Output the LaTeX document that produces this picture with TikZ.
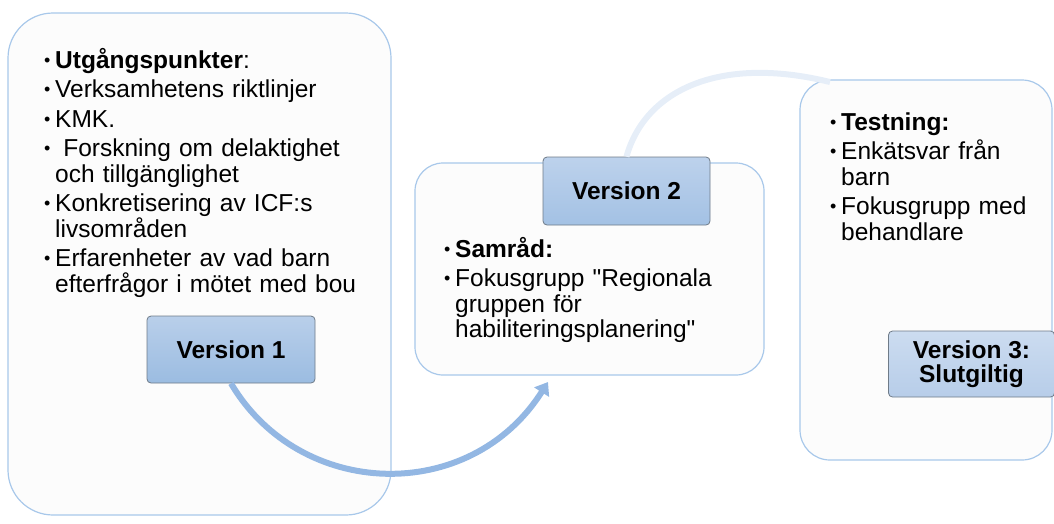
\documentclass[tikz,border=0pt]{standalone}
\usepackage{fontspec}
\setmainfont{Liberation Sans}
\newfontfamily\qfont{Liberation Sans}
\usetikzlibrary{arrows.meta}
\definecolor{boxline}{HTML}{A8C8EA}
\definecolor{boxfill}{HTML}{FCFCFC}
\definecolor{vline}{HTML}{6F7B88}
\definecolor{arrowc}{HTML}{93B7E3}
\definecolor{arrowfaint}{HTML}{E6EEF8}
\definecolor{vtopA}{HTML}{B9CFEA}
\definecolor{vbotA}{HTML}{9BBCE1}
\definecolor{vtopB}{HTML}{BDD2EC}
\definecolor{vbotB}{HTML}{A3C1E4}
\definecolor{vtopC}{HTML}{CCDCF0}
\definecolor{vbotC}{HTML}{B7CDE9}
\newcommand\bul{\makebox[11pt][l]{\raisebox{2pt}{\fontsize{18}{18}\selectfont •}}}
\newcommand\ind{\hspace*{11pt}}
\newcommand\dq{{\qfont"}}
\tikzset{
  bigbox/.style={draw=boxline, fill=boxfill, line width=1.2pt, inner sep=0pt},
  verbox/.style={draw=vline, line width=0.8pt, rounded corners=4pt, inner sep=0pt,
    font=\fontsize{24.5}{24}\selectfont\bfseries, align=center},
  bodytext/.style={anchor=base west, inner sep=0pt, align=left, text width=360pt,
    font=\fontsize{24.5}{25.5}\selectfont},
  flow/.style={line width=6pt, draw=arrowc},
  faintflow/.style={line width=6pt, draw=arrowfaint}
}
\begin{document}
\begin{tikzpicture}[x=1pt,y=-1pt]
\useasboundingbox (0,0) rectangle (1054,523);
% big boxes
\node[bigbox, rounded corners=45pt, minimum width=383pt, minimum height=502pt] (b1) at (199.5,264) {};
\node[bigbox, rounded corners=28pt, minimum width=349pt, minimum height=212pt] (b2) at (589.5,269) {};
\node[bigbox, rounded corners=30pt, minimum width=252pt, minimum height=380pt] (b3) at (926,270) {};
% texts
\node[bodytext] (t1) at (44,68) {\bul\textbf{Utgångspunkter}:\\[4pt]
\bul Verksamhetens riktlinjer\\[4pt]
\bul KMK.\\[4pt]
\bul\ Forskning om delaktighet\\
\ind och tillgänglighet\\[4pt]
\bul Konkretisering av ICF:s\\
\ind livsområden\\[4pt]
\bul Erfarenheter av vad barn\\
\ind efterfrågor i mötet med bou};
\node[bodytext] (t2) at (444,257) {\bul\textbf{Samråd:}\\[4pt]
\bul Fokusgrupp \dq Regionala\\
\ind gruppen för\\
\ind habiliteringsplanering\dq};
\node[bodytext] (t3) at (830,130) {\bul\textbf{Testning:}\\[4pt]
\bul Enkätsvar från\\
\ind barn\\[4pt]
\bul Fokusgrupp med\\
\ind behandlare};
% version boxes
\node[verbox, top color=vtopA, bottom color=vbotA, minimum width=168pt, minimum height=67pt] (v1) at (231,349.5) {Version 1};
\node[verbox, top color=vtopB, bottom color=vbotB, minimum width=167pt, minimum height=68pt] (v2) at (626.5,191) {Version 2};
\node[verbox, top color=vtopC, bottom color=vbotC, minimum width=166pt, minimum height=66pt] (v3) at (971.5,364) {Version 3:\\Slutgiltig};
% connectors
\coordinate (a1end) at (548,382);
\coordinate (a2end) at (830,82);
\draw[flow, -{Triangle[length=12pt,width=17pt]}] (v1.south) .. controls (300,500) and (470,505) .. (a1end);
\draw[faintflow] (v2.north) .. controls (645,90) and (720,55) .. (a2end);
\end{tikzpicture}
\end{document}
